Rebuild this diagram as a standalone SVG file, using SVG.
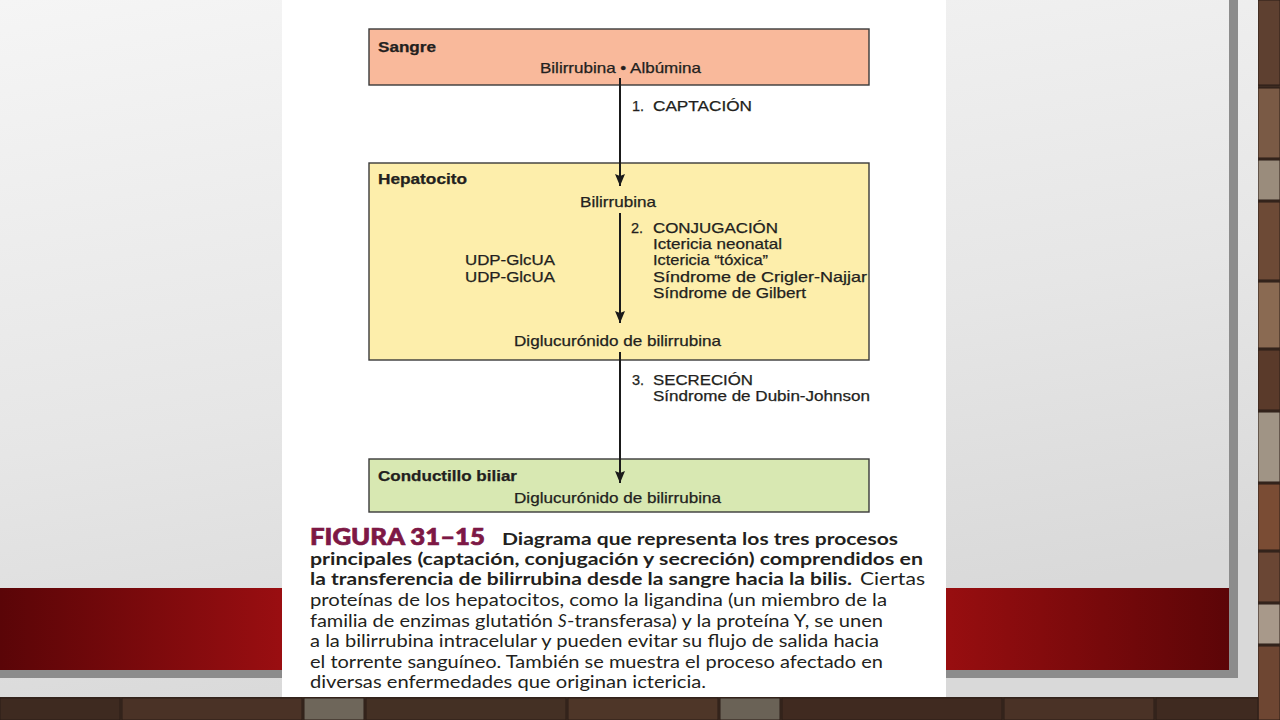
<svg xmlns="http://www.w3.org/2000/svg" width="1280" height="720" viewBox="0 0 1280 720">
<defs>
  <linearGradient id="slideBg" x1="0" y1="0" x2="0.3" y2="1">
    <stop offset="0" stop-color="#f5f5f5"/>
    <stop offset="0.6" stop-color="#e6e6e6"/>
    <stop offset="1" stop-color="#d9d9d9"/>
  </linearGradient>
  <linearGradient id="redBand" x1="0" y1="0" x2="1229" y2="0" gradientUnits="userSpaceOnUse">
    <stop offset="0" stop-color="#5a0507"/>
    <stop offset="0.23" stop-color="#9a0e11"/>
    <stop offset="0.77" stop-color="#980e10"/>
    <stop offset="1" stop-color="#5c0507"/>
  </linearGradient>
  <marker id="arrow" viewBox="0 0 12 10" refX="12" refY="5" markerWidth="12" markerHeight="10" markerUnits="userSpaceOnUse" orient="auto">
    <path d="M0,0 L12,5 L0,10 L2,5 z" fill="#1a1a1a"/>
  </marker>
  <style>
    .box { stroke: #3a3a3a; stroke-width: 1.4; }
    .t { font-family: "Liberation Sans", Arial, sans-serif; font-size: 14.5px; fill: #231f20; stroke: #231f20; stroke-width: 0.25; }
    .b { font-weight: bold; }
    .cap { font-family: Lato, "Noto Sans", "Liberation Sans", sans-serif; font-size: 17px; fill: #231f20; }
    .fig { fill: #7d1845; stroke: #7d1845; stroke-width: 0.7; font-size: 23px; font-weight: 900; }
    .conn { stroke: #1a1a1a; stroke-width: 2; fill: none; }
    .brick { stroke: #2a1d16; stroke-width: 1; }
  </style>
</defs>

<!-- brick background -->
<g id="bricks">
  <rect x="0" y="0" width="1280" height="720" fill="#3d2b21"/>
  <rect class="brick" x="1258" y="0" width="22" height="85" fill="#5e4030"/>
  <rect class="brick" x="1258" y="88" width="22" height="70" fill="#7a5a45"/>
  <rect class="brick" x="1258" y="160" width="22" height="40" fill="#9a8c7c"/>
  <rect class="brick" x="1258" y="202" width="22" height="78" fill="#6d4a36"/>
  <rect class="brick" x="1258" y="282" width="22" height="66" fill="#8a6a52"/>
  <rect class="brick" x="1258" y="350" width="22" height="60" fill="#5a3a2a"/>
  <rect class="brick" x="1258" y="412" width="22" height="70" fill="#a09485"/>
  <rect class="brick" x="1258" y="484" width="22" height="66" fill="#7a4c34"/>
  <rect class="brick" x="1258" y="552" width="22" height="50" fill="#6a4634"/>
  <rect class="brick" x="1258" y="604" width="22" height="40" fill="#a8998a"/>
  <rect class="brick" x="1258" y="646" width="22" height="74" fill="#6e4632"/>
  <rect class="brick" x="0" y="698" width="120" height="22" fill="#3e2a20"/>
  <rect class="brick" x="122" y="698" width="180" height="22" fill="#4a3226"/>
  <rect class="brick" x="304" y="698" width="60" height="22" fill="#6e665a"/>
  <rect class="brick" x="366" y="698" width="200" height="22" fill="#443024"/>
  <rect class="brick" x="568" y="698" width="150" height="22" fill="#4e3628"/>
  <rect class="brick" x="720" y="698" width="60" height="22" fill="#6a6256"/>
  <rect class="brick" x="782" y="698" width="220" height="22" fill="#402a20"/>
  <rect class="brick" x="1004" y="698" width="150" height="22" fill="#4a3226"/>
  <rect class="brick" x="1156" y="698" width="102" height="22" fill="#3f2a20"/>
</g>

<!-- slide panel -->
<rect x="0" y="0" width="1258" height="697" fill="url(#slideBg)"/>
<rect x="1229" y="0" width="9" height="678" fill="#8c8c8c"/>
<rect x="0" y="670" width="1238" height="8" fill="#8c8c8c"/>
<rect x="0" y="588" width="1229" height="82" fill="url(#redBand)"/>

<!-- figure page -->
<rect x="282" y="0" width="664" height="697" fill="#ffffff"/>

<!-- nodes -->
<g id="sangre">
  <rect class="box" x="369" y="29" width="500" height="56" fill="#f9b99b"/>
  <text class="t b" x="378" y="52" textLength="58" lengthAdjust="spacingAndGlyphs">Sangre</text>
  <text class="t" x="540" y="73" textLength="161" lengthAdjust="spacingAndGlyphs">Bilirrubina • Albúmina</text>
</g>

<g id="hepatocito">
  <rect class="box" x="369" y="163" width="500" height="197" fill="#fdeeab"/>
  <text class="t b" x="378" y="184" textLength="89" lengthAdjust="spacingAndGlyphs">Hepatocito</text>
  <text class="t" x="580" y="207" textLength="76" lengthAdjust="spacingAndGlyphs">Bilirrubina</text>
  <text class="t" x="465" y="265" textLength="90" lengthAdjust="spacingAndGlyphs">UDP-GlcUA</text>
  <text class="t" x="465" y="282" textLength="90" lengthAdjust="spacingAndGlyphs">UDP-GlcUA</text>
  <text class="t" x="514" y="346" textLength="207" lengthAdjust="spacingAndGlyphs">Diglucurónido de bilirrubina</text>
</g>

<g id="conductillo">
  <rect class="box" x="369" y="459" width="500" height="53" fill="#d8e8b2"/>
  <text class="t b" x="378" y="481" textLength="139" lengthAdjust="spacingAndGlyphs">Conductillo biliar</text>
  <text class="t" x="514" y="503" textLength="207" lengthAdjust="spacingAndGlyphs">Diglucurónido de bilirrubina</text>
</g>

<!-- connectors -->
<g id="connectors">
  <line class="conn" x1="620" y1="78" x2="620" y2="186" marker-end="url(#arrow)"/>
  <line class="conn" x1="620" y1="213" x2="620" y2="323" marker-end="url(#arrow)"/>
  <line class="conn" x1="620" y1="352" x2="620" y2="483" marker-end="url(#arrow)"/>
</g>

<!-- process labels -->
<g id="label-captacion">
  <text class="t" x="632" y="111">1.</text>
  <text class="t" x="653" y="111" textLength="99" lengthAdjust="spacingAndGlyphs">CAPTACIÓN</text>
</g>
<g id="label-conjugacion">
  <text class="t" x="631" y="233">2.</text>
  <text class="t" x="653" y="233" textLength="125" lengthAdjust="spacingAndGlyphs">CONJUGACIÓN</text>
  <text class="t" x="653" y="249" textLength="129" lengthAdjust="spacingAndGlyphs">Ictericia neonatal</text>
  <text class="t" x="653" y="265" textLength="115" lengthAdjust="spacingAndGlyphs">Ictericia “tóxica”</text>
  <text class="t" x="653" y="282" textLength="214" lengthAdjust="spacingAndGlyphs">Síndrome de Crigler-Najjar</text>
  <text class="t" x="653" y="298" textLength="153" lengthAdjust="spacingAndGlyphs">Síndrome de Gilbert</text>
</g>
<g id="label-secrecion">
  <text class="t" x="632" y="385">3.</text>
  <text class="t" x="653" y="385" textLength="100" lengthAdjust="spacingAndGlyphs">SECRECIÓN</text>
  <text class="t" x="653" y="401" textLength="217" lengthAdjust="spacingAndGlyphs">Síndrome de Dubin-Johnson</text>
</g>

<!-- caption -->
<g id="caption">
  <text class="cap fig" x="310" y="545" textLength="175" lengthAdjust="spacingAndGlyphs">FIGURA 31–15</text>
  <text class="cap b" x="502" y="545" textLength="396" lengthAdjust="spacingAndGlyphs">Diagrama que representa los tres procesos</text>
  <text class="cap b" x="310" y="565" textLength="613" lengthAdjust="spacingAndGlyphs">principales (captación, conjugación y secreción) comprendidos en</text>
  <text class="cap b" x="310" y="585" textLength="542" lengthAdjust="spacingAndGlyphs">la transferencia de bilirrubina desde la sangre hacia la bilis.</text>
  <text class="cap" x="860" y="585" textLength="65" lengthAdjust="spacingAndGlyphs">Ciertas</text>
  <text class="cap" x="310" y="606" textLength="577" lengthAdjust="spacingAndGlyphs">proteínas de los hepatocitos, como la ligandina (un miembro de la</text>
  <text class="cap" x="310" y="627" textLength="243" lengthAdjust="spacingAndGlyphs">familia de enzimas glutatión</text>
  <text class="cap" x="558" y="627" font-style="italic">S</text>
  <text class="cap" x="567" y="627" textLength="316" lengthAdjust="spacingAndGlyphs">-transferasa) y la proteína Y, se unen</text>
  <text class="cap" x="310" y="647" textLength="569" lengthAdjust="spacingAndGlyphs">a la bilirrubina intracelular y pueden evitar su flujo de salida hacia</text>
  <text class="cap" x="310" y="668" textLength="573" lengthAdjust="spacingAndGlyphs">el torrente sanguíneo. También se muestra el proceso afectado en</text>
  <text class="cap" x="310" y="688" textLength="396" lengthAdjust="spacingAndGlyphs">diversas enfermedades que originan ictericia.</text>
</g>
</svg>
